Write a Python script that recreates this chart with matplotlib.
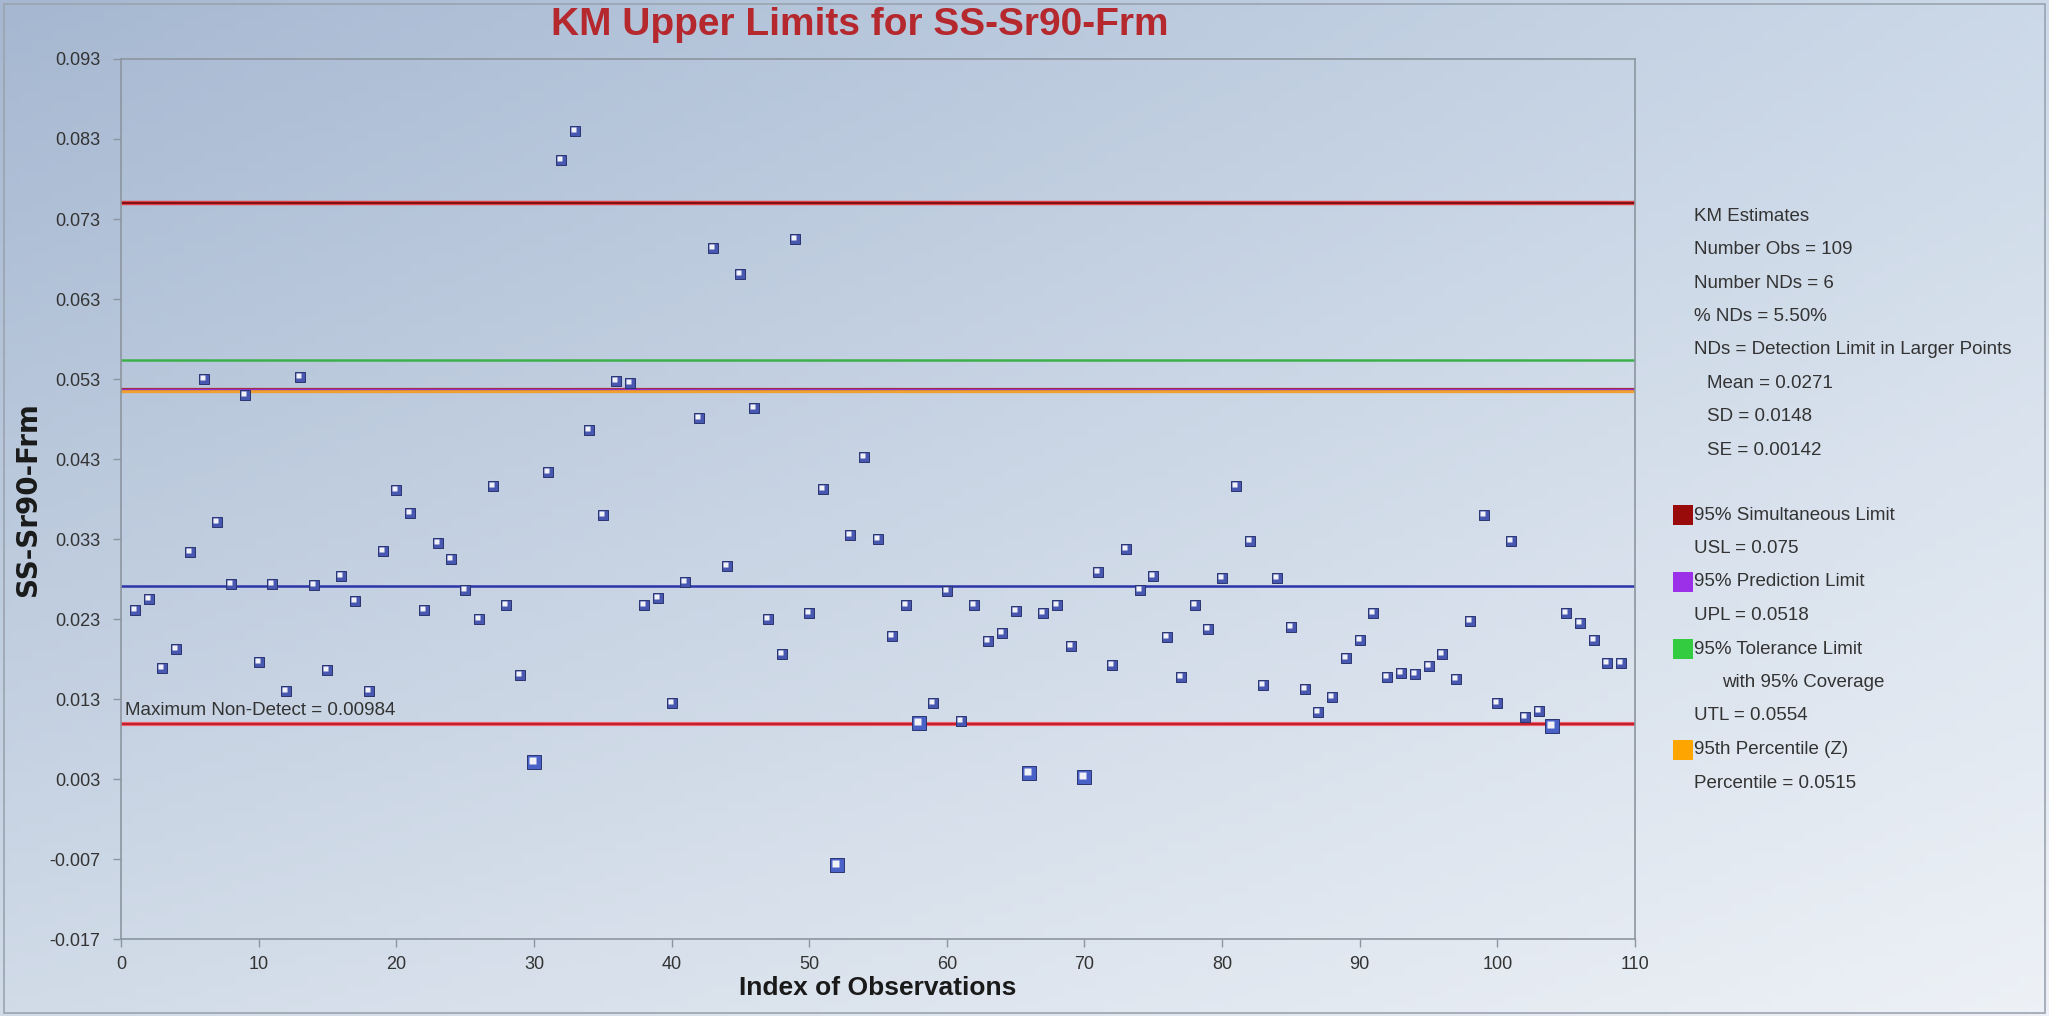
import numpy as np
import matplotlib; matplotlib.use("Agg")
import matplotlib.pyplot as plt
from matplotlib.path import Path
from matplotlib.patches import Rectangle

plt.rcParams['font.family'] = ['Liberation Sans', 'DejaVu Sans']

# observation values, index 1..109
values = [0.0241, 0.0255, 0.0169, 0.0192, 0.0314, 0.0530, 0.0351, 0.0274, 0.0510, 0.0176,
          0.0274, 0.0140, 0.0532, 0.0273, 0.0166, 0.0284, 0.0253, 0.0140, 0.0315, 0.0391,
          0.0363, 0.0241, 0.0325, 0.0305, 0.0266, 0.0230, 0.0396, 0.0248, 0.0160, 0.0051,
          0.0414, 0.0804, 0.0840, 0.0466, 0.0360, 0.0527, 0.0525, 0.0248, 0.0256, 0.0125,
          0.0276, 0.0481, 0.0694, 0.0296, 0.0661, 0.0494, 0.0230, 0.0186, 0.0705, 0.0237,
          0.0392, -0.0078, 0.0335, 0.0433, 0.0330, 0.0209, 0.0248, 0.0100, 0.0125, 0.0265,
          0.0102, 0.0248, 0.0202, 0.0212, 0.0240, 0.0037, 0.0238, 0.0248, 0.0196, 0.0032,
          0.0289, 0.0173, 0.0317, 0.0266, 0.0284, 0.0207, 0.0158, 0.0248, 0.0217, 0.0281,
          0.0396, 0.0328, 0.0148, 0.0281, 0.0220, 0.0143, 0.0114, 0.0132, 0.0181, 0.0204,
          0.0238, 0.0158, 0.0163, 0.0161, 0.0171, 0.0186, 0.0155, 0.0227, 0.0360, 0.0125,
          0.0328, 0.0107, 0.0115, 0.0096, 0.0237, 0.0225, 0.0204, 0.0175, 0.0175]
nd_idx = [30, 52, 58, 66, 70, 104]

usl = 0.075
upl = 0.0518
utl = 0.0554
pctl = 0.0515
mean = 0.0271
max_nd = 0.00984

xticks = list(range(0, 111, 10))
yticks = [0.093, 0.083, 0.073, 0.063, 0.053, 0.043, 0.033, 0.023, 0.013, 0.003, -0.007, -0.017]

legend_top = ["KM Estimates", "Number Obs = 109", "Number NDs = 6", "% NDs = 5.50%",
              "NDs = Detection Limit in Larger Points", "Mean = 0.0271", "SD = 0.0148", "SE = 0.00142"]
legend_bottom = [("95% Simultaneous Limit", '#990a0a'), ("USL = 0.075", None),
                 ("95% Prediction Limit", '#9b30e8'), ("UPL = 0.0518", None),
                 ("95% Tolerance Limit", '#33cc40'), ("with 95% Coverage", None),
                 ("UTL = 0.0554", None), ("95th Percentile (Z)", '#ffa500'),
                 ("Percentile = 0.0515", None)]

W, H = 2049, 1016
fig = plt.figure(figsize=(W / 100, H / 100), dpi=100)

# background gradient
bg = fig.add_axes([0, 0, 1, 1], zorder=-10)
tl = np.array([0.65, 0.72, 0.82]); tr = np.array([0.80, 0.85, 0.91])
bl = np.array([0.82, 0.86, 0.91]); br = np.array([0.93, 0.945, 0.965])
u = np.linspace(0, 1, 200)[None, :, None]
v = np.linspace(0, 1, 100)[:, None, None]
img = (1 - v) * ((1 - u) * tl + u * tr) + v * ((1 - u) * bl + u * br)
bg.imshow(img, aspect='auto', extent=[0, 1, 0, 1], origin='upper')
bg.axis('off')
fig.patches.append(Rectangle((0.002, 0.003), 0.996, 0.993, transform=fig.transFigure,
                             fill=False, edgecolor='#9aa4b0', lw=1.2))

ax = fig.add_axes([121 / W, 1 - 939 / H, (1635 - 121) / W, (939 - 59) / H])
ax.patch.set_alpha(0)

# horizontal limit lines
ax.axhline(usl, color='#e04048', lw=3.2, zorder=2)
ax.axhline(usl, color='#7a0c0c', lw=1.3, zorder=2)
ax.axhline(utl, color='#3cb04a', lw=1.8, zorder=2)
ax.axhline(pctl, color='#f0a030', lw=2.4, zorder=2)
ax.axhline(upl, color='#a03040', lw=1.6, zorder=2)
ax.axhline(upl, color='#9030d0', lw=0.8, zorder=2)
ax.axhline(mean, color='#2c34a8', lw=1.8, zorder=2)
ax.axhline(max_nd, color='#f06070', lw=3.0, zorder=2)
ax.axhline(max_nd, color='#c0202a', lw=1.4, zorder=2)
ax.annotate('Maximum Non-Detect = 0.00984', (0.3, max_nd), xytext=(0, 4), textcoords='offset points',
            fontsize=13.5, color='#333333', va='bottom', ha='left')

# points
idx = np.arange(1, len(values) + 1)
vals = np.array(values)
is_nd = np.isin(idx, nd_idx)
hl = Path([(-0.8, -0.25), (0.3, -0.25), (0.3, 0.8), (-0.8, 0.8), (-0.8, -0.25)],
          [Path.MOVETO, Path.LINETO, Path.LINETO, Path.LINETO, Path.CLOSEPOLY])
for mask, ms, face in [(~is_nd, 6.5, '#4858b0'), (is_nd, 9.5, '#4a62c8')]:
    ax.plot(idx[mask], vals[mask], ls='none', marker='s', ms=ms, mfc=face, mec='#2a3470', mew=0.7, zorder=4)
    ax.plot(idx[mask], vals[mask], ls='none', marker=hl, ms=ms * 0.8, mfc='#f0f2f8', mec='none', zorder=5)

ax.set_xlim(0, 110)
ax.set_ylim(-0.017, 0.093)
ax.set_xticks(xticks)
ax.set_yticks(yticks)
ax.set_yticklabels([f'{t:.3f}' for t in yticks])
ax.tick_params(axis='both', labelsize=13, labelcolor='#333333', color='#8c96a0', length=6, width=1)
ax.tick_params(axis='y', pad=9)
ax.tick_params(axis='x', pad=6)
for s in ax.spines.values():
    s.set_color('#8c96a0')
    s.set_linewidth(1.2)

ax.set_xlabel('Index of Observations', fontsize=19, fontweight='bold', color='#1a1a1a')
ax.xaxis.set_label_coords(0.5, -0.042)
ax.set_ylabel('SS-Sr90-Frm', fontsize=20, fontweight='bold', color='#1a1a1a', family='DejaVu Sans')
ax.yaxis.set_label_coords(-0.052, 0.5)
ax.set_title('KM Upper Limits for SS-Sr90-Frm', fontsize=28, fontweight='bold', color='#b5282e',
             x=0.488, y=1.0386, va='center', pad=0)

# stats legend on the right
for i, t in enumerate(legend_top):
    xpx = 1707 if i >= 5 else 1694
    fig.text(xpx / W, 1 - (216 + i * 33.5) / H, t, fontsize=13.5, color='#333333', va='center', ha='left')
for i, (t, c) in enumerate(legend_bottom):
    ypx = 515 + i * 33.5
    xpx = 1722 if t.startswith('with') else 1694
    fig.text(xpx / W, 1 - ypx / H, t, fontsize=13.5, color='#333333', va='center', ha='left')
    if c is not None:
        fig.patches.append(Rectangle((1673 / W, 1 - (ypx + 10) / H), 20 / W, 20 / H,
                                     transform=fig.transFigure, facecolor=c, edgecolor='none'))

fig.savefig('out.png', dpi=100)
print('done')
